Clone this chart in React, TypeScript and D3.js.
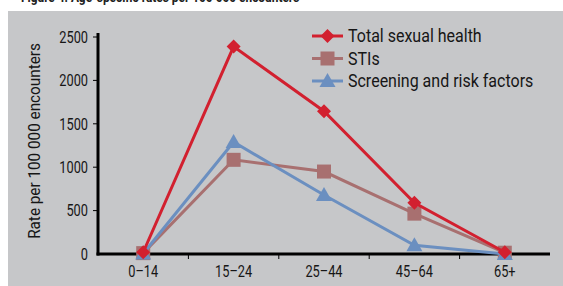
import React from "react";
import * as d3 from "d3";

const categories = ["0–14", "15–24", "25–44", "45–64", "65+"];
const totalSexualHealth = [20, 2390, 1645, 590, 20];
const stis = [10, 1085, 950, 465, 15];
const screening = [5, 1290, 680, 100, 0];
const yTicks = [0, 500, 1000, 1500, 2000, 2500];
const seriesNames = ["Total sexual health", "STIs", "Screening and risk factors"];

const W = 563;
const H = 286;
const FONT = "'Roboto', 'Liberation Sans', sans-serif";
const INK = "#161616";

export default function App() {
  const x = d3.scaleBand<string>().domain(categories).range([98, 550]);
  const y = d3.scaleLinear().domain([0, 2500]).range([254, 37]);
  const cx = (c: string) => (x(c) as number) + x.bandwidth() / 2;

  const colors = ["#d2202f", "#a87070", "#6b8fc0"];
  const data = [totalSexualHealth, stis, screening];
  const line = d3
    .line<number>()
    .x((_, i) => cx(categories[i]))
    .y((v) => y(v));

  const marker = (k: number, px: number, py: number, key: string) => {
    if (k === 0) {
      const s = 7;
      return (
        <path key={key} d={`M${px},${py - s}L${px + s},${py}L${px},${py + s}L${px - s},${py}Z`} fill={colors[0]} />
      );
    }
    if (k === 1) {
      return <rect key={key} x={px - 7} y={py - 7} width={14} height={14} fill={colors[1]} />;
    }
    const s = 8;
    return (
      <path key={key} d={`M${px},${py - s}L${px + s},${py + 6}L${px - s},${py + 6}Z`} fill={colors[2]} />
    );
  };

  return (
    <svg width={W} height={H} style={{ position: "absolute", left: 0, top: 0 }}>
      <rect x={0} y={0} width={W} height={H} fill="#ffffff" />
      <text
        transform="translate(21,2) scale(0.85,1)"
        fontFamily={FONT}
        fontSize={14}
        fontWeight="bold"
        fill="#222"
      >
        Figure 4: Age-specific rates per 100 000 encounters
      </text>
      <rect x={8} y={11} width={W - 8} height={H - 11} fill="#c6c7c9" />

      {/* y axis */}
      <line x1={98} x2={98} y1={33} y2={255.5} stroke="#000" strokeWidth={3} />
      {yTicks.map((t) => (
        <g key={t}>
          {t > 0 && <line x1={93} x2={98} y1={y(t)} y2={y(t)} stroke="#000" strokeWidth={1} />}
          <text
            transform={`translate(88,${y(t)}) scale(0.8,1)`}
            dy="0.36em"
            textAnchor="end"
            fontFamily={FONT}
            fontSize={16}
            fill={INK}
          >
            {t}
          </text>
        </g>
      ))}
      <text
        transform={`translate(40,${141}) rotate(-90) scale(0.9,1)`}
        textAnchor="middle"
        fontFamily={FONT}
        fontSize={17}
        fill={INK}
      >
        Rate per 100 000 encounters
      </text>

      {/* x axis */}
      <line x1={96.5} x2={550} y1={254} y2={254} stroke="#000" strokeWidth={3} />
      {categories.slice(1).map((c) => (
        <line key={c} x1={x(c)} x2={x(c)} y1={254} y2={259} stroke="#000" strokeWidth={1} />
      ))}
      {categories.map((c) => (
        <text
          key={c}
          transform={`translate(${cx(c)},277) scale(0.8,1)`}
          textAnchor="middle"
          fontFamily={FONT}
          fontSize={16}
          fill={INK}
        >
          {c}
        </text>
      ))}

      {/* series */}
      {[1, 2, 0].map((k) => (
        <g key={k}>
          <path d={line(data[k]) as string} fill="none" stroke={colors[k]} strokeWidth={3} />
          {data[k].map((v, i) => marker(k, cx(categories[i]), y(v), `${k}-${i}`))}
        </g>
      ))}

      {/* legend */}
      {seriesNames.map((n, k) => {
        const ly = 36 + k * 22.5;
        return (
          <g key={n}>
            <line x1={312} x2={343} y1={ly} y2={ly} stroke={colors[k]} strokeWidth={3} />
            {marker(k, 327.5, ly, `lg-${k}`)}
            <text
              transform={`translate(348,${ly}) scale(0.89,1)`}
              dy="0.36em"
              fontFamily={FONT}
              fontSize={18}
              fill={INK}
            >
              {n}
            </text>
          </g>
        );
      })}
    </svg>
  );
}
